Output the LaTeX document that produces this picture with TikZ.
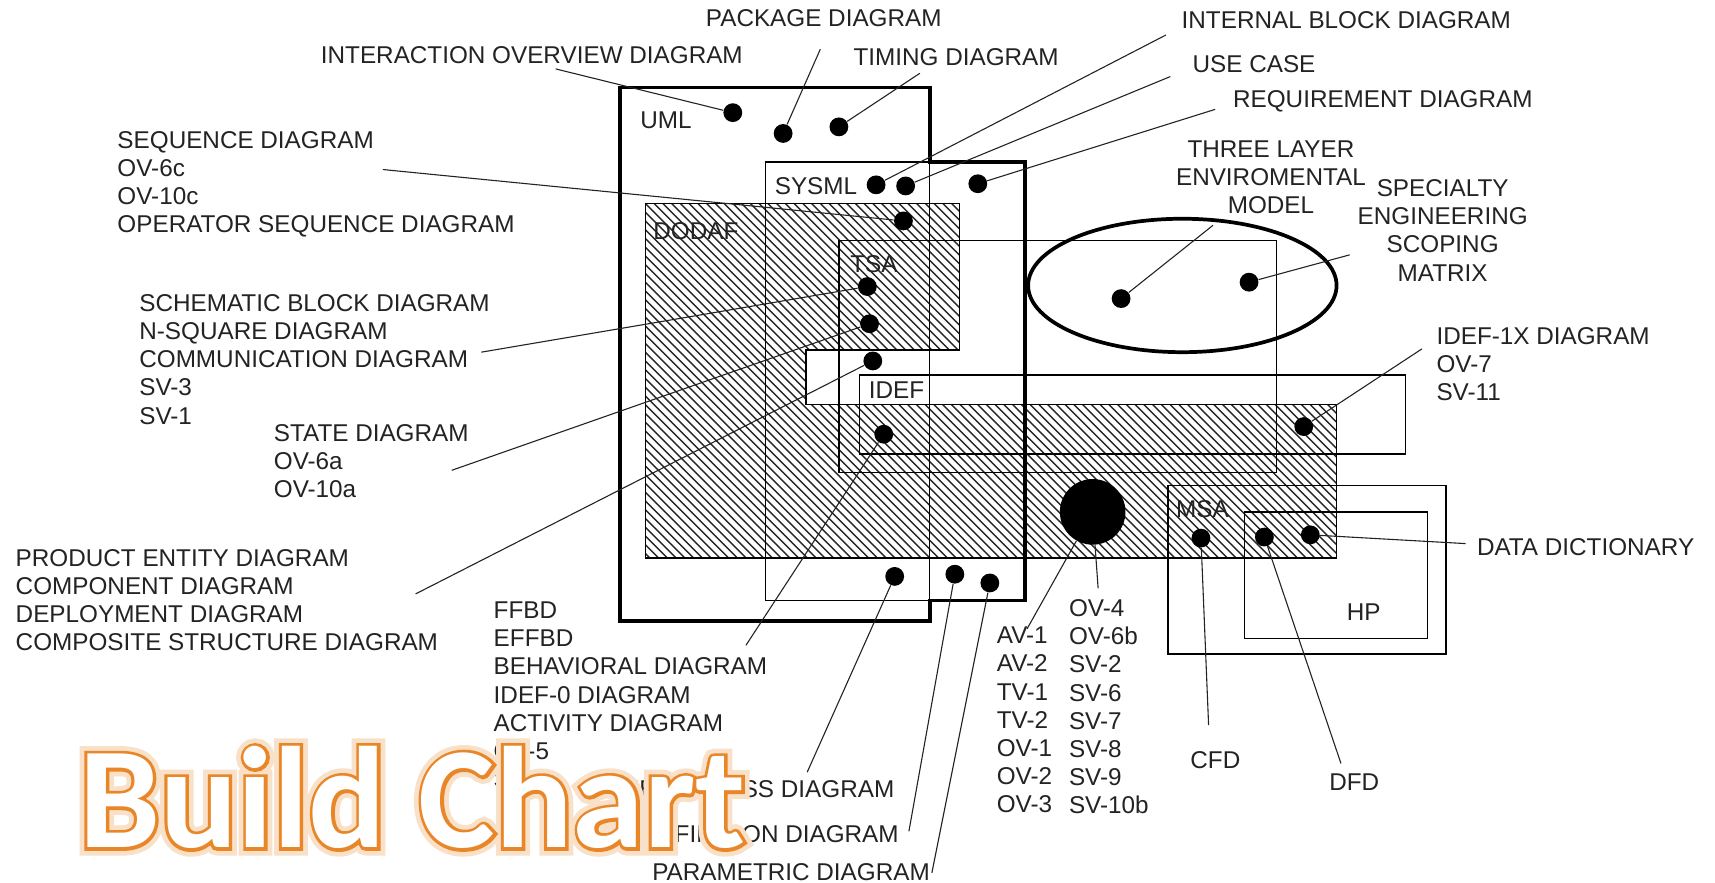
\documentclass[tikz,border=0pt]{standalone}
\usepackage{fontspec}
\setmainfont{Liberation Sans}
\newfontfamily\bcfont{Carlito}[UprightFont=* Bold]
\newfontfamily\bcstrokefont{Carlito}[UprightFont=* Bold, FakeBold=4.5]
\newfontfamily\bcglowfont{Carlito}[UprightFont=* Bold, FakeBold=11]
\usetikzlibrary{calc}
\definecolor{bcorange}{RGB}{232,134,40}
\definecolor{inkgray}{RGB}{35,35,35}
\begin{document}
\begin{tikzpicture}[x=0.5pt,y=-0.5pt,
 lbl/.style={font=\fontsize{11.1}{12.85}\selectfont, text=inkgray, inner sep=0pt, align=left, anchor=north west},
 clbl/.style={lbl, align=center, anchor=north},
 rlbl/.style={lbl, align=right, anchor=north east},
 dot/.style={circle, fill=black, draw=none, inner sep=0pt, minimum size=8.6pt},
 bigdot/.style={circle, fill=black, draw=none, inner sep=0pt, minimum size=30pt},
 leader/.style={line width=0.5pt, draw=inkgray},
 boxline/.style={line width=0.65pt, draw=black},
 heavyline/.style={line width=1.7pt, draw=black},
 hatchline/.style={line width=0.65pt, draw=black!85},
 bctitle/.style={anchor=base west, inner sep=0pt},
]
\fill[white] (0,0) rectangle (1568,807);
\useasboundingbox (0,0) rectangle (1568,807);

% ---------- hatched DODAF region ----------
\begin{scope}
 \clip (590,186) -- (877,186) -- (877,320) -- (737,320) -- (737,370) -- (1222,370) -- (1222,510) -- (590,510) -- cycle;
 \foreach \k in {-42,...,80} \draw[hatchline] ({590+8*\k},186) -- ++(330,330);
\end{scope}
\draw[boxline] (590,186) -- (877,186) -- (877,320) -- (737,320) -- (737,370) -- (1222,370) -- (1222,510) -- (590,510) -- cycle;

% ---------- boxes ----------
\draw[boxline] (567,80) rectangle (850,568);   % UML
\draw[boxline] (700,148) rectangle (937,549);  % SYSML
\draw[boxline] (767,220) rectangle (1167,432); % TSA
\draw[boxline] (786,343) rectangle (1285,415); % IDEF
\draw[boxline] (1068,444) rectangle (1322,598);% MSA
\draw[boxline] (1138,468) rectangle (1305,584);% HP
\draw[heavyline] (567,80) -- (850,80) -- (850,148) -- (937,148) -- (937,549) -- (850,549) -- (850,568) -- (567,568) -- cycle;
\draw[heavyline] (1081,261) ellipse [x radius=141, y radius=61];

% ---------- region labels ----------
\node[lbl] (r-uml) at (585,102) {UML};
\node[lbl] (r-sysml) at (708,162) {SYSML};
\node[lbl] (r-dodaf) at (597,203) {DODAF};
\node[lbl] (r-tsa) at (777,233) {TSA};
\node[lbl] (r-idef) at (794,349) {IDEF};
\node[lbl] (r-msa) at (1075,457) {MSA};
\node[lbl] (r-hp) at (1231,552) {HP};

% ---------- dots ----------
\node[dot] (d-io) at (670,103) {};
\node[dot] (d-pkg) at (716,122) {};
\node[dot] (d-tim) at (767,116) {};
\node[dot] (d-ibd) at (801,169) {};
\node[dot] (d-uc) at (828,170) {};
\node[dot] (d-req) at (894,168) {};
\node[dot] (d-seq) at (826,202) {};
\node[dot] (d-sbd) at (793,262) {};
\node[dot] (d-state) at (795,296) {};
\node[dot] (d-ped) at (798,330) {};
\node[dot] (d-beh) at (808,397) {};
\node[dot] (d-tle) at (1025,273) {};
\node[dot] (d-sesm) at (1142,258) {};
\node[dot] (d-idef1x) at (1192,390) {};
\node[bigdot] (d-big) at (999,468) {};
\node[dot] (d-cfd) at (1098,492) {};
\node[dot] (d-dfd) at (1156,491) {};
\node[dot] (d-dd) at (1198,489) {};
\node[dot] (d-ocd) at (818,527) {};
\node[dot] (d-bdd) at (873,525) {};
\node[dot] (d-par) at (905,533) {};

% ---------- labels ----------
\node[lbl] (l-pkg) at (645,8) {PACKAGE DIAGRAM};
\node[lbl] (l-io) at (293,42) {INTERACTION OVERVIEW DIAGRAM};
\node[lbl] (l-tim) at (780,44) {TIMING DIAGRAM};
\node[lbl] (l-ibd) at (1080,10) {INTERNAL BLOCK DIAGRAM};
\node[lbl] (l-uc) at (1090,50) {USE CASE};
\node[lbl] (l-req) at (1127,82) {REQUIREMENT DIAGRAM};
\node[clbl] (l-tle) at (1162,128) {THREE LAYER\\ENVIROMENTAL\\MODEL};
\node[clbl] (l-sesm) at (1319,164) {SPECIALTY\\ENGINEERING\\SCOPING\\MATRIX};
\node[lbl] (l-idef1x) at (1313,299) {IDEF-1X DIAGRAM\\OV-7\\SV-11};
\node[lbl] (l-seq) at (107,120) {SEQUENCE DIAGRAM\\OV-6c\\OV-10c\\OPERATOR SEQUENCE DIAGRAM};
\node[lbl] (l-sbd) at (127,269) {SCHEMATIC BLOCK DIAGRAM\\N-SQUARE DIAGRAM\\COMMUNICATION DIAGRAM\\SV-3\\SV-1};
\node[lbl] (l-state) at (250,388) {STATE DIAGRAM\\OV-6a\\OV-10a};
\node[lbl] (l-ped) at (14,502) {PRODUCT ENTITY DIAGRAM\\COMPONENT DIAGRAM\\DEPLOYMENT DIAGRAM\\COMPOSITE STRUCTURE DIAGRAM};
\node[lbl] (l-beh) at (451,550) {FFBD\\EFFBD\\BEHAVIORAL DIAGRAM\\IDEF-0 DIAGRAM\\ACTIVITY DIAGRAM\\OV-5\\SV-4};
\node[rlbl] (l-ocd) at (818,713) {OBJECT CLASS DIAGRAM};
\node[rlbl] (l-bdd) at (822,754) {BLOCK DEFINITION DIAGRAM};
\node[lbl] (l-par) at (596,789) {PARAMETRIC DIAGRAM};
\node[lbl] (l-av) at (911,573) {AV-1\\AV-2\\TV-1\\TV-2\\OV-1\\OV-2\\OV-3};
\node[lbl] (l-ov) at (977,548) {OV-4\\OV-6b\\SV-2\\SV-6\\SV-7\\SV-8\\SV-9\\SV-10b};
\node[lbl] (l-dd) at (1350,492) {DATA DICTIONARY};
\node[lbl] (l-cfd) at (1088,687) {CFD};
\node[lbl] (l-dfd) at (1215,707) {DFD};

% ---------- leader ends ----------
\coordinate (e-io) at (508,63);
\coordinate (e-pkg) at (750,45);
\coordinate (e-tim) at (841,67);
\coordinate (e-ibd) at (1066,32);
\coordinate (e-uc) at (1070,70);
\coordinate (e-req) at (1111,100);
\coordinate (e-tle) at (1109,206);
\coordinate (e-sesm) at (1234,233);
\coordinate (e-idef1x) at (1300,319);
\coordinate (e-seq) at (350,155);
\coordinate (e-sbd) at (440,322);
\coordinate (e-state) at (413,430);
\coordinate (e-ped) at (380,543);
\coordinate (e-beh) at (682,590);
\coordinate (e-ocd) at (738,706);
\coordinate (e-bdd) at (831,760);
\coordinate (e-par) at (852,798);
\coordinate (e-av) at (939,575);
\coordinate (e-ov) at (1004,538);
\coordinate (e-dd) at (1340,497);
\coordinate (e-cfd) at (1105,663);
\coordinate (e-dfd) at (1226,698);

% ---------- leaders ----------
\draw[leader] (e-io) -- (d-io);
\draw[leader] (e-pkg) -- (d-pkg);
\draw[leader] (e-tim) -- (d-tim);
\draw[leader] (e-ibd) -- (d-ibd);
\draw[leader] (e-uc) -- (d-uc);
\draw[leader] (e-req) -- (d-req);
\draw[leader] (e-tle) -- (d-tle);
\draw[leader] (e-sesm) -- (d-sesm);
\draw[leader] (e-idef1x) -- (d-idef1x);
\draw[leader] (e-seq) -- (d-seq);
\draw[leader] (e-sbd) -- (d-sbd);
\draw[leader] (e-state) -- (d-state);
\draw[leader] (e-ped) -- (d-ped);
\draw[leader] (d-beh) -- (e-beh);
\draw[leader] (d-ocd) -- (e-ocd);
\draw[leader] (d-bdd) -- (e-bdd);
\draw[leader] (d-par) -- (e-par);
\draw[leader] (d-big) -- (e-av);
\draw[leader] (d-big) -- (e-ov);
\draw[leader] (d-dd) -- (e-dd);
\draw[leader] (d-cfd) -- (e-cfd);
\draw[leader] (d-dfd) -- (e-dfd);

% ---------- overlay title ----------
\coordinate (bcpos) at (72,775);
\node[bctitle, text=bcorange!25, font=\bcglowfont\fontsize{66}{66}\selectfont] (bc-glow) at (bcpos) {Build Chart};
\node[bctitle, text=bcorange, font=\bcstrokefont\fontsize{66}{66}\selectfont] (bc-stroke) at (bcpos) {Build Chart};
\node[bctitle, text=white, font=\bcfont\fontsize{66}{66}\selectfont] (buildchart) at (bcpos) {Build Chart};
\end{tikzpicture}
\end{document}
